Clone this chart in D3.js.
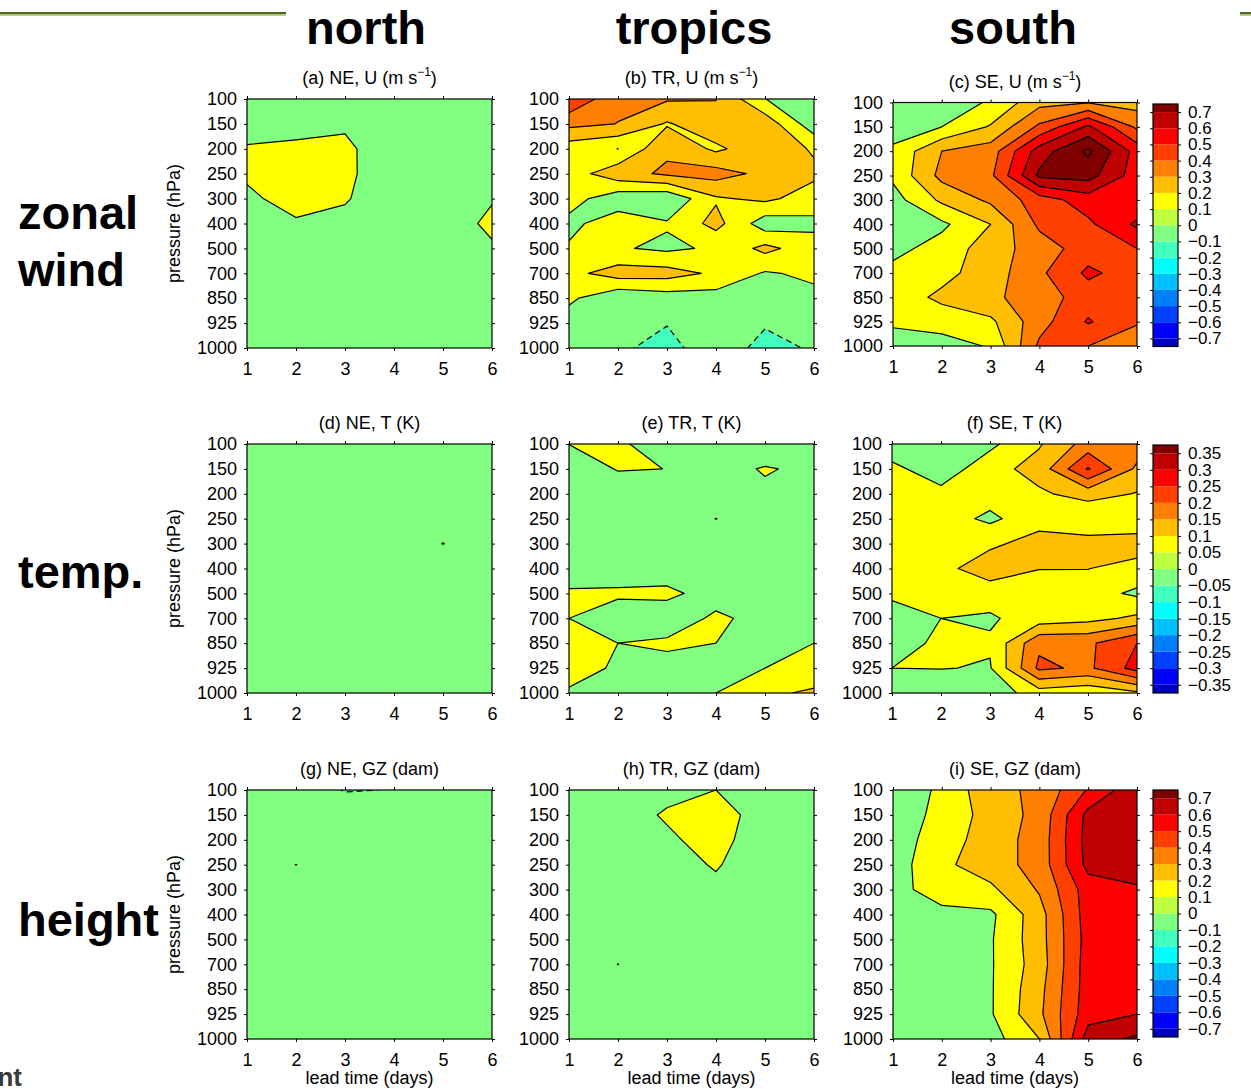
<!DOCTYPE html>
<html>
<head>
<meta charset="utf-8">
<script src="https://cdn.jsdelivr.net/npm/d3@7"></script>
<style>
  body { margin: 0; background: #fff; }
  svg text { font-family: "Liberation Sans", Arial, Helvetica, sans-serif; }
</style>
</head>
<body>
<svg id="fig" width="1251" height="1089"></svg>
<script>
// ---- axes values -------------------------------------------------------
const days = [1, 2, 3, 4, 5, 6];
const pressureLevels = [100, 150, 200, 250, 300, 400, 500, 700, 850, 925, 1000];

// contour levels: wind and height share one set, temperature uses half the spacing
const windLevels = [-0.1, 0.1, 0.2, 0.3, 0.4, 0.5, 0.6, 0.7, 0.8];
const tempLevels = [-0.05, 0.05, 0.1, 0.15, 0.2, 0.25, 0.3, 0.35, 0.4];

// colour-bar tick labels (band edges)
const windTicks = [-0.7, -0.6, -0.5, -0.4, -0.3, -0.2, -0.1, 0, 0.1, 0.2, 0.3, 0.4, 0.5, 0.6, 0.7];
const tempTicks = [-0.35, -0.3, -0.25, -0.2, -0.15, -0.1, -0.05, 0, 0.05, 0.1, 0.15, 0.2, 0.25, 0.3, 0.35];

// 16-step jet colormap
const jet16 = ['#0000bf', '#0000ff', '#0040ff', '#0080ff', '#00bfff', '#00ffff', '#40ffbf', '#80ff80',
               '#bfff40', '#ffff00', '#ffbf00', '#ff8000', '#ff4000', '#ff0000', '#bf0000', '#800000'];

// ---- fields: rows = 100 ... 1000 hPa, columns = lead time day 1 ... 6 ----
const neU = [
  [0.02, 0.03, 0.04, 0.03, 0.02, 0.01],
  [0.00, 0.04, 0.07, 0.03, 0.02, 0.02],
  [0.12, 0.134, 0.145, -0.04, 0.01, 0.03],
  [0.13, 0.15, 0.15, -0.05, 0.00, 0.04],
  [0.06, 0.18, 0.12, -0.047, 0.00, 0.084],
  [0.03, 0.075, 0.037, 0.00, -0.022, 0.15],
  [0.02, 0.03, 0.02, 0.01, 0.00, 0.072],
  [0.01, 0.02, 0.02, 0.01, 0.01, 0.03],
  [0.02, 0.02, 0.01, 0.01, 0.02, 0.02],
  [0.02, 0.01, 0.01, 0.02, 0.02, 0.02],
  [0.02, 0.02, 0.02, 0.02, 0.02, 0.02]
];
const trU = [
  [0.49, 0.32, 0.31, 0.302, 0.102, 0.02],
  [0.328, 0.298, 0.19, 0.27, 0.265, 0.037],
  [0.143, 0.099, 0.284, 0.18, 0.27, 0.1875],
  [0.15, 0.264, 0.316, 0.34, 0.275, 0.222],
  [0.142, 0.037, 0.016, 0.188, 0.222, 0.15],
  [0.072, 0.16, 0.11, 0.234, 0.045, 0.0775],
  [0.112, 0.11, 0.0806, 0.115, 0.228, 0.14],
  [0.17, 0.246, 0.24, 0.183, 0.09, 0.12],
  [0.12, 0.018, 0.05, 0.057, 0.04, 0.0735],
  [0.049, -0.03, -0.096, -0.04, -0.091, -0.05],
  [0.02, -0.085, -0.13, -0.045, -0.13, -0.09]
];
const seU = [
  [0.02, 0.05, 0.11, 0.27, 0.295, 0.26],
  [0.05, 0.10, 0.21, 0.42, 0.62, 0.38],
  [0.12, 0.30, 0.35, 0.65, 0.82, 0.56],
  [0.12, 0.33, 0.38, 0.72, 0.74, 0.55],
  [0.06, 0.22, 0.32, 0.45, 0.55, 0.52],
  [0.02, 0.08, 0.20, 0.42, 0.48, 0.62],
  [0.07, 0.14, 0.25, 0.35, 0.45, 0.50],
  [0.13, 0.17, 0.25, 0.38, 0.52, 0.45],
  [0.15, 0.22, 0.28, 0.35, 0.45, 0.42],
  [0.12, 0.15, 0.18, 0.36, 0.51, 0.41],
  [0.04, 0.05, 0.11, 0.42, 0.40, 0.34]
];
const neT = [
  [0.01, 0.02, 0.01, 0.00, -0.01, 0.01],
  [0.01, 0.01, 0.02, 0.01, 0.00, 0.01],
  [0.00, 0.01, 0.01, 0.02, 0.01, 0.00],
  [0.00, 0.00, 0.01, 0.01, 0.02, 0.01],
  [0.00, 0.01, 0.00, 0.01, 0.051, 0.01],
  [0.01, 0.00, 0.01, 0.00, 0.01, 0.02],
  [0.01, 0.01, 0.00, 0.01, 0.00, 0.01],
  [0.00, 0.01, 0.01, 0.00, 0.01, 0.00],
  [0.01, 0.00, 0.01, 0.01, 0.00, 0.01],
  [0.01, 0.01, 0.00, 0.01, 0.01, 0.00],
  [0.00, 0.01, 0.01, 0.00, 0.01, 0.01]
];
const trT = [
  [0.051, 0.07, -0.013, 0.00, -0.04, 0.00],
  [0.00, 0.055, 0.0495, 0.004, 0.06, 0.023],
  [0.00, 0.00, 0.01, 0.00, 0.027, 0.01],
  [0.01, 0.00, 0.00, 0.051, 0.00, 0.00],
  [0.00, 0.01, 0.00, 0.00, 0.01, 0.00],
  [0.007, 0.00, 0.015, 0.00, 0.00, 0.01],
  [0.06, 0.065, 0.065, 0.022, 0.00, 0.00],
  [0.05, 0.00, 0.011, 0.062, 0.028, 0.00],
  [0.08, 0.05, 0.061, 0.05, 0.00, 0.05],
  [0.08, 0.04, 0.028, 0.00, 0.05, 0.08],
  [0.041, 0.00, 0.00, 0.05, 0.094, 0.105]
];
const seT = [
  [0.02, 0.03, 0.039, 0.095, 0.17, 0.18],
  [0.062, 0.022, 0.08, 0.12, 0.255, 0.14],
  [0.07, 0.064, 0.07, 0.092, 0.12, 0.097],
  [0.07, 0.072, 0.04, 0.08, 0.053, 0.062],
  [0.07, 0.075, 0.09, 0.12, 0.123, 0.125],
  [0.06, 0.084, 0.13, 0.101, 0.101, 0.082],
  [0.07, 0.08, 0.07, 0.08, 0.07, 0.041],
  [0.00, 0.05, 0.044, 0.073, 0.085, 0.11],
  [0.02, 0.064, 0.056, 0.19, 0.19, 0.25],
  [0.05, 0.052, 0.046, 0.21, 0.19, 0.27],
  [0.00, 0.00, 0.02, 0.0756, 0.06, 0.09]
];
const neGZ = [
  [0.02, 0.01, -0.11, -0.095, 0.02, 0.03],
  [0.03, 0.02, 0.01, 0.02, 0.03, 0.02],
  [0.02, 0.03, 0.02, 0.03, 0.02, 0.03],
  [0.03, 0.101, 0.03, 0.02, 0.03, 0.02],
  [0.02, 0.03, 0.02, 0.03, 0.02, 0.03],
  [0.03, 0.02, 0.03, 0.02, 0.03, 0.02],
  [0.02, 0.03, 0.02, 0.03, 0.02, 0.02],
  [0.03, 0.02, 0.03, 0.02, 0.02, 0.03],
  [0.02, 0.03, 0.02, 0.03, 0.02, 0.02],
  [0.03, 0.02, 0.03, 0.02, 0.03, 0.02],
  [0.02, 0.03, 0.02, 0.03, 0.02, 0.03]
];
const trGZ = [
  [0.02, 0.03, 0.05, 0.10, 0.05, 0.03],
  [0.03, 0.02, 0.12, 0.16, 0.04, 0.02],
  [0.02, 0.03, 0.07, 0.17, -0.019, 0.01],
  [0.02, 0.03, 0.009, 0.12, -0.047, 0.00],
  [0.03, 0.02, 0.02, 0.049, 0.00, 0.01],
  [0.02, 0.02, 0.03, 0.03, 0.02, 0.02],
  [0.02, 0.03, 0.02, 0.03, 0.02, 0.02],
  [0.03, 0.101, 0.03, 0.02, 0.02, 0.03],
  [0.02, 0.03, 0.02, 0.02, 0.03, 0.02],
  [0.02, 0.02, 0.03, 0.02, 0.02, 0.02],
  [0.02, 0.02, 0.02, 0.03, 0.02, 0.02]
];
const seGZ = [
  [0.05, 0.114, 0.273, 0.318, 0.509, 0.674],
  [0.04, 0.13, 0.24, 0.33, 0.63, 0.66],
  [0.05, 0.15, 0.25, 0.34, 0.64, 0.68],
  [0.05, 0.18, 0.25, 0.34, 0.63, 0.68],
  [0.05, 0.17, 0.18, 0.31, 0.55, 0.58],
  [0.04, 0.06, 0.08, 0.26, 0.55, 0.56],
  [0.04, 0.05, 0.09, 0.26, 0.54, 0.55],
  [0.04, 0.05, 0.09, 0.25, 0.55, 0.55],
  [0.04, 0.05, 0.09, 0.27, 0.55, 0.56],
  [0.04, 0.06, 0.09, 0.28, 0.56, 0.60],
  [0.03, 0.04, 0.06, 0.20, 0.65, 0.72]
];

// ---- layout ------------------------------------------------------------
const FONT = '"Liberation Sans", Arial, Helvetica, sans-serif';
const svg = d3.select('#fig');

const windColor = d3.scaleThreshold().domain(windTicks).range(jet16);
const tempColor = d3.scaleThreshold().domain(tempTicks).range(jet16);

const panels = [
  { field: neU,  levels: windLevels, color: windColor, label: '(a) NE, U', unit: 'wind', box: { x0: 247, x1: 492, y0: 99,    y1: 348 } },
  { field: trU,  levels: windLevels, color: windColor, label: '(b) TR, U', unit: 'wind', box: { x0: 569, x1: 814, y0: 99,    y1: 348 } },
  { field: seU,  levels: windLevels, color: windColor, label: '(c) SE, U', unit: 'wind', box: { x0: 893, x1: 1137, y0: 102.5, y1: 346 } },
  { field: neT,  levels: tempLevels, color: tempColor, label: '(d) NE, T (K)', box: { x0: 247, x1: 492, y0: 444, y1: 693 } },
  { field: trT,  levels: tempLevels, color: tempColor, label: '(e) TR, T (K)', box: { x0: 569, x1: 814, y0: 444, y1: 693 } },
  { field: seT,  levels: tempLevels, color: tempColor, label: '(f) SE, T (K)', box: { x0: 892, x1: 1137, y0: 444, y1: 693 } },
  { field: neGZ, levels: windLevels, color: windColor, label: '(g) NE, GZ (dam)', box: { x0: 247, x1: 492, y0: 790, y1: 1039 } },
  { field: trGZ, levels: windLevels, color: windColor, label: '(h) TR, GZ (dam)', box: { x0: 569, x1: 814, y0: 790, y1: 1039 } },
  { field: seGZ, levels: windLevels, color: windColor, label: '(i) SE, GZ (dam)', box: { x0: 893, x1: 1137, y0: 790, y1: 1039 } }
];

const colorbars = [
  { ticks: windTicks, color: windColor, half: 0.05,  box: { x0: 1153, x1: 1178, y0: 104, y1: 346.5 } },
  { ticks: tempTicks, color: tempColor, half: 0.025, box: { x0: 1153, x1: 1178, y0: 445, y1: 693 } },
  { ticks: windTicks, color: windColor, half: 0.05,  box: { x0: 1153, x1: 1178, y0: 790, y1: 1037 } }
];

function styleAxis(g, size = 18) {
  g.attr('font-family', FONT).attr('font-size', size);
  g.select('.domain').remove();
  g.selectAll('.tick line').attr('stroke', '#000');
  g.selectAll('.tick text').attr('fill', '#000');
}

function drawPanel(p, idx) {
  const { x0, x1, y0, y1 } = p.box;
  const nx = days.length, ny = pressureLevels.length;
  const x = d3.scaleLinear().domain([days[0], days[nx - 1]]).range([x0, x1]);
  const y = d3.scaleLinear().domain([0, ny - 1]).range([y0, y1]);

  // filled contours on the lead-time x pressure grid
  const contours = d3.contours().size([nx, ny]).thresholds(p.levels)(p.field.flat());
  const proj = d3.geoTransform({
    point(px, py) { this.stream.point(x(px + 0.5), y(py - 0.5)); }
  });
  const path = d3.geoPath(proj);

  const clipId = 'clip-' + idx;
  svg.append('clipPath').attr('id', clipId)
    .append('rect').attr('x', x0).attr('y', y0).attr('width', x1 - x0).attr('height', y1 - y0);

  const g = svg.append('g').attr('clip-path', `url(#${clipId})`);
  const step = p.levels[1] - p.levels[0];
  g.append('rect').attr('x', x0).attr('y', y0).attr('width', x1 - x0).attr('height', y1 - y0)
    .attr('fill', p.color(p.levels[0] - step / 4));
  g.selectAll('path.band').data(contours).join('path')
    .attr('class', 'band')
    .attr('d', path)
    .attr('fill', d => p.color(d.value + 1e-9))
    .attr('stroke', d => p.color(d.value + 1e-9))
    .attr('stroke-width', 0.4);
  g.selectAll('path.iso').data(contours).join('path')
    .attr('class', 'iso')
    .attr('d', path)
    .attr('fill', 'none')
    .attr('stroke', '#000')
    .attr('stroke-width', 1.2)
    .attr('stroke-linejoin', 'round')
    .attr('stroke-dasharray', d => d.value < 0 ? '6,4' : null);

  // axes on all four sides, ticks pointing outward
  svg.append('g').attr('transform', `translate(${x0},0)`)
    .call(d3.axisLeft(y).tickValues(d3.range(ny)).tickFormat(i => pressureLevels[i]).tickSize(3).tickPadding(7))
    .call(styleAxis);
  svg.append('g').attr('transform', `translate(${x1},0)`)
    .call(d3.axisRight(y).tickValues(d3.range(ny)).tickFormat('').tickSize(3))
    .call(styleAxis);
  svg.append('g').attr('transform', `translate(0,${y1})`)
    .call(d3.axisBottom(x).tickValues(days).tickFormat(d3.format('d')).tickSize(3).tickPadding(11))
    .call(styleAxis);
  svg.append('g').attr('transform', `translate(0,${y0})`)
    .call(d3.axisTop(x).tickValues(days).tickFormat('').tickSize(3))
    .call(styleAxis);
  svg.append('rect').attr('x', x0).attr('y', y0).attr('width', x1 - x0).attr('height', y1 - y0)
    .attr('fill', 'none').attr('stroke', '#000').attr('stroke-width', 1.2);

  // panel title
  const t = svg.append('text')
    .attr('x', (x0 + x1) / 2).attr('y', y0 - 15)
    .attr('text-anchor', 'middle').attr('font-size', 18).attr('fill', '#000');
  if (p.unit === 'wind') {
    t.append('tspan').text(p.label + ' (m s');
    t.append('tspan').attr('font-size', 12).attr('dy', -8).text('\u22121');
    t.append('tspan').attr('dy', 8).text(')');
  } else {
    t.text(p.label);
  }
}

function drawColorbar(cb) {
  const { x0, x1, y0, y1 } = cb.box;
  const lo = cb.ticks[0] - cb.half, hi = cb.ticks[cb.ticks.length - 1] + cb.half;
  const y = d3.scaleLinear().domain([lo, hi]).range([y1, y0]);
  const edges = [lo, ...cb.ticks, hi];
  const bands = d3.pairs(edges);
  svg.append('g').selectAll('rect').data(bands).join('rect')
    .attr('x', x0).attr('width', x1 - x0)
    .attr('y', d => y(d[1])).attr('height', d => y(d[0]) - y(d[1]))
    .attr('fill', d => cb.color((d[0] + d[1]) / 2));
  svg.append('g').attr('transform', `translate(${x1},0)`)
    .call(d3.axisRight(y).tickValues(cb.ticks).tickFormat(d3.format('~g')).tickSize(3).tickPadding(7))
    .call(g => styleAxis(g, 17));
  svg.append('g').attr('transform', `translate(${x0},0)`)
    .call(d3.axisLeft(y).tickValues(cb.ticks).tickFormat('').tickSize(3))
    .call(styleAxis);
  svg.append('rect').attr('x', x0).attr('y', y0).attr('width', x1 - x0).attr('height', y1 - y0)
    .attr('fill', 'none').attr('stroke', '#000').attr('stroke-width', 1.2);
}

panels.forEach(drawPanel);
colorbars.forEach(drawColorbar);

// y-axis labels on the left column
[0, 3, 6].forEach(i => {
  const b = panels[i].box;
  svg.append('text')
    .attr('transform', `translate(180,${(b.y0 + b.y1) / 2}) rotate(-90)`)
    .attr('text-anchor', 'middle').attr('font-size', 18).attr('fill', '#000')
    .text('pressure (hPa)');
});
// x-axis labels under the bottom row
[6, 7, 8].forEach(i => {
  const b = panels[i].box;
  svg.append('text')
    .attr('x', (b.x0 + b.x1) / 2).attr('y', 1084)
    .attr('text-anchor', 'middle').attr('font-size', 18).attr('fill', '#000')
    .text('lead time (days)');
});

// column headings
const columnNames = ['north', 'tropics', 'south'];
const columnCentres = [366, 694, 1013];
columnNames.forEach((name, i) => {
  svg.append('text').attr('x', columnCentres[i]).attr('y', 44)
    .attr('text-anchor', 'middle').attr('font-size', 47).attr('font-weight', 'bold')
    .attr('fill', '#000').text(name);
});

// row headings
const rowNames = [['zonal', 229], ['wind', 286], ['temp.', 588], ['height', 936]];
rowNames.forEach(([name, yy]) => {
  svg.append('text').attr('x', 18).attr('y', yy)
    .attr('font-size', 47).attr('font-weight', 'bold').attr('fill', '#000').text(name);
});

// slide rule at the top and footer fragment
svg.append('rect').attr('x', 0).attr('y', 12).attr('width', 286).attr('height', 2.2).attr('fill', '#4f6b22');
svg.append('rect').attr('x', 0).attr('y', 14.2).attr('width', 286).attr('height', 1.5).attr('fill', '#a3b86a');
svg.append('rect').attr('x', 1240).attr('y', 12).attr('width', 11).attr('height', 2.2).attr('fill', '#4f6b22');
svg.append('rect').attr('x', 1240).attr('y', 14.2).attr('width', 11).attr('height', 1.5).attr('fill', '#a3b86a');
svg.append('text').attr('x', 22).attr('y', 1086).attr('text-anchor', 'end')
  .attr('font-size', 26).attr('font-weight', 'bold').attr('fill', '#3a3a3a').text('ment');
</script>
</body>
</html>
